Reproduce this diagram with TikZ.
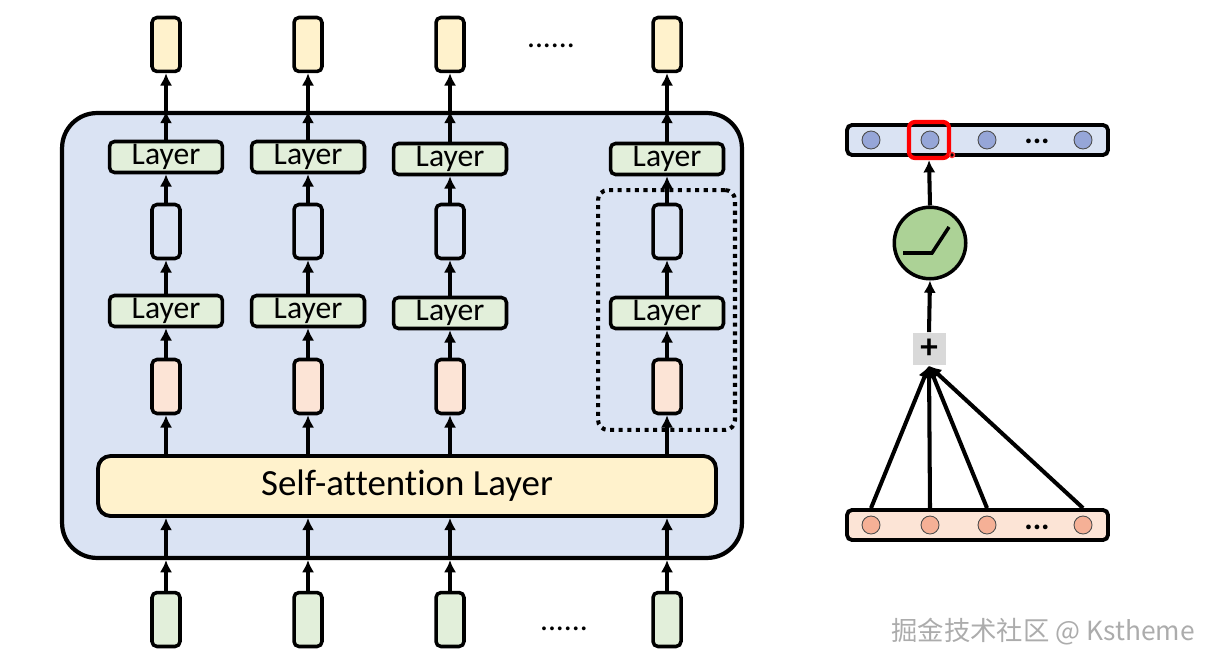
\documentclass[tikz,border=0pt]{standalone}
\usepackage{fontspec}
\setmainfont[Ligatures=NoCommon]{Carlito}
\newfontfamily\cjk{Noto Sans CJK SC}
\usetikzlibrary{arrows.meta}
\definecolor{encblue}{RGB}{218,227,243}
\definecolor{layergreen}{RGB}{226,239,218}
\definecolor{outyellow}{RGB}{255,242,204}
\definecolor{embpink}{RGB}{252,228,214}
\definecolor{hdot}{RGB}{150,166,216}
\definecolor{xdot}{RGB}{245,176,150}
\definecolor{relugreen}{RGB}{172,210,150}
\definecolor{plusgray}{RGB}{217,217,217}

\begin{document}
\begin{tikzpicture}[x=0.02cm, y=-0.02cm, >={Latex[length=7pt,width=7pt]},
  vec/.style={draw, line width=2pt, rounded corners=0.1cm, minimum width=0.56cm, minimum height=1.08cm, inner sep=0},
  layer/.style={draw, line width=2pt, rounded corners=0.1cm, fill=layergreen, minimum width=2.26cm, minimum height=0.62cm, inner sep=0, font=\fontsize{18}{20}\selectfont},
  unit/.style={draw=black!70, circle, line width=0.5pt, minimum size=0.36cm, inner sep=0},
  bar/.style={draw, line width=2.2pt, rounded corners=0.1cm, minimum width=5.22cm, minimum height=0.6cm},
  arr/.style={->, line width=1.9pt},
  arrb/.style={->, line width=2.3pt},
  gap/.style={anchor=base, inner sep=0, font=\fontsize{18}{20}\selectfont}]
\useasboundingbox (0,0) rectangle (1209,665);

% encoder block
\node[draw, line width=2.4pt, fill=encblue, rounded corners=0.7cm, minimum width=13.6cm, minimum height=8.9cm] (enc) at (402,335.5) {};
\node[draw, line width=2.2pt, fill=outyellow, rounded corners=0.25cm, minimum width=12.36cm, minimum height=1.2cm, font=\fontsize{21}{24}\selectfont] (attn) at (407,486) {Self-attention Layer};
\node[draw, line width=2.3pt, dash pattern=on 2.3pt off 2.6pt, rounded corners=0.2cm, minimum width=2.74cm, minimum height=4.8cm] (blk) at (666.5,310) {};

\foreach \i/\x/\d in {1/166/0, 2/308/0, 3/450/2, 4/667/2} {
  \node[vec, fill=outyellow] (out\i) at (\x,44.5) {};
  \node[layer] (top\i) at (\x,157+\d) {Layer};
  \node[vec, fill=encblue] (hid\i) at (\x,231.5) {};
  \node[layer] (low\i) at (\x,311+\d) {Layer};
  \node[vec, fill=embpink] (emb\i) at (\x,386.5) {};
  \node[vec, fill=layergreen] (in\i) at (\x,619.5) {};
  \draw[arr] (in\i.north) -- (in\i.north |- enc.south);
  \draw[arr] (in\i.north |- enc.south) -- (attn.south -| in\i);
  \draw[arr] (attn.north -| emb\i) -- (emb\i.south);
  \draw[arr] (emb\i.north) -- (low\i.south);
  \draw[arr] (low\i.north) -- (hid\i.south);
  \draw[arr] (hid\i.north) -- (top\i.south);
  \draw[arr] (top\i.north) -- (top\i.north |- enc.north);
  \draw[arr] (top\i.north |- enc.north) -- (out\i.south);
}
\node[gap] (dotsout) at (551,48) {......};
\node[gap] (dotsin) at (564,630) {......};

% one unit of the feed forward layer
\node[bar, fill=encblue] (hbar) at (977.5,140) {};
\node[bar, fill=embpink] (xbar) at (977.5,525) {};
\foreach \j/\x in {1/871, 2/930, 3/987, 4/1083} {
  \node[unit, fill=hdot] (h\j) at (\x,140) {};
  \node[unit, fill=xdot] (x\j) at (\x,525) {};
}
\node[gap, font=\fontsize{18}{20}\bfseries] (hdots) at (1037,144) {...};
\node[gap, font=\fontsize{18}{20}\bfseries] (xdots) at (1037,529) {...};
\node[draw=red, line width=2.4pt, rounded corners=0.12cm, minimum width=0.8cm, minimum height=0.72cm] (sel) at (929,140) {};
\node[draw=red!80, circle, line width=0.8pt, minimum size=0.1cm, inner sep=0] (mark) at (952,155) {};

\node[draw, circle, line width=2pt, fill=relugreen, minimum size=1.43cm, inner sep=0] (relu) at (930,243) {};
\draw[line width=2pt] (903,253) -- (932,253) -- (949,227);
\node[fill=plusgray, minimum size=0.66cm, inner sep=0, font=\fontsize{20}{20}\bfseries] (plus) at (929,349) {+};

\draw[arrb] (relu.north) -- (sel.south);
\draw[arrb] (plus.north) -- (relu.south);
\foreach \j in {1,...,4}
  \draw[arrb] (xbar.north -| x\j) -- (plus.south);

\node[text=gray!65, font=\fontsize{15}{18}\selectfont\cjk] (wm) at (1043,632) {掘金技术社区 @ Kstheme};
\end{tikzpicture}
\end{document}
